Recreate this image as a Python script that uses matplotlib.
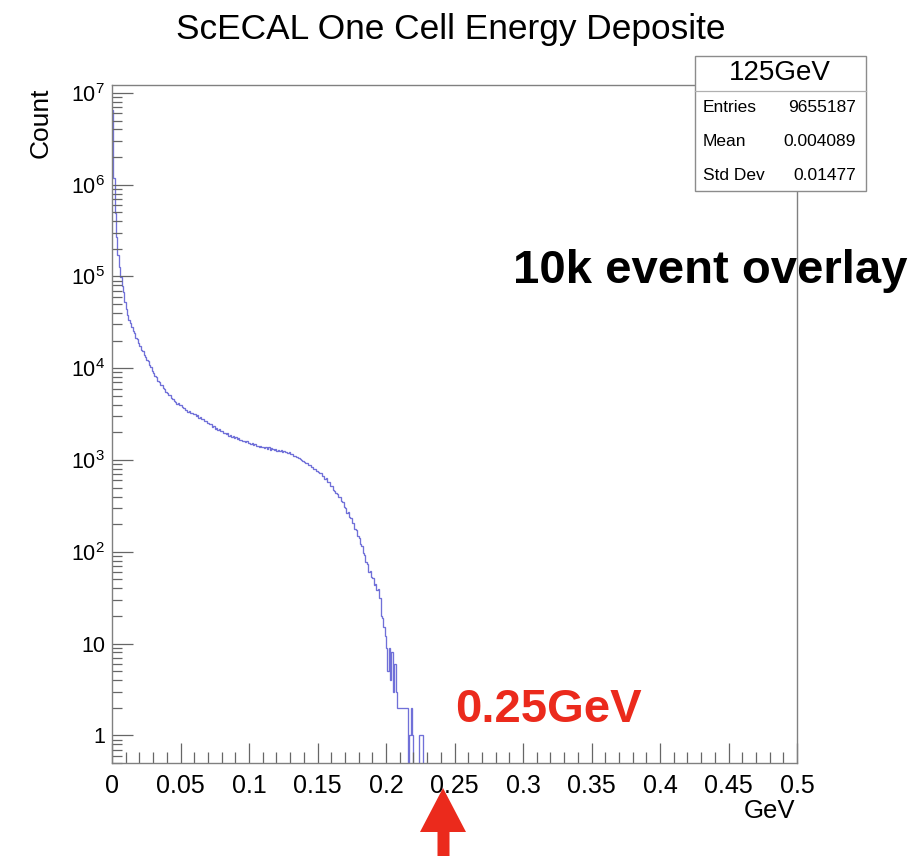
import numpy as np
import matplotlib
matplotlib.use("Agg")
import matplotlib.pyplot as plt
from matplotlib.patches import Rectangle, Polygon
from matplotlib.lines import Line2D
from matplotlib.ticker import FixedLocator, FuncFormatter, MultipleLocator, LogLocator, NullFormatter

plt.rcParams['font.family'] = ['Liberation Sans', 'DejaVu Sans']
plt.rcParams['mathtext.fontset'] = 'custom'
plt.rcParams['mathtext.rm'] = 'Liberation Sans'
plt.rcParams['mathtext.default'] = 'rm'

# one cell energy deposit, 1 MeV bins starting at 0 GeV
bin_width = 0.001
counts_peak = [6450000, 1175000, 490000, 269000, 170000, 126000, 97700,
               79400, 67600, 52500, 44700, 38000, 33900, 30900]
counts_falloff = [28200, 25300, 24300, 21600, 20700, 18800, 17600, 16000, 15300, 13900,
                  13400, 12400, 11900, 10800, 10400, 9400, 8800, 8200, 8050, 7300,
                  7150, 6650, 6550, 6080, 5950, 5540, 5420, 5060, 5080, 4720,
                  4630, 4410, 4330, 4110, 4150, 3930, 3950, 3740, 3680, 3500,
                  3520, 3340, 3430, 3270, 3290, 3200]
counts_plateau = [3210, 3050, 3060, 2900, 2920, 2770, 2790, 2650, 2680, 2530,
                  2560, 2470, 2490, 2310, 2330, 2200, 2230, 2110, 2170, 2060,
                  2080, 1970, 1990, 1920, 1950, 1830, 1890, 1790, 1810, 1750,
                  1770, 1680, 1720, 1640, 1660, 1600, 1630, 1560, 1600, 1530,
                  1540, 1490, 1520, 1450, 1500, 1420, 1440, 1390, 1430, 1370,
                  1400, 1350, 1390, 1330, 1370, 1300, 1340, 1310, 1280, 1320,
                  1270, 1300, 1240, 1280, 1220, 1250, 1210, 1230, 1180, 1210,
                  1160, 1170, 1110, 1120, 1080, 1090, 1040, 1030, 990, 980]
counts_edge = [960, 925, 930, 880, 885, 840, 850, 800, 790, 765,
               750, 715, 720, 670, 675, 620, 630, 575, 570, 525,
               520, 470, 465, 440, 425, 400, 395, 355, 345, 310,
               300, 268, 270, 238, 232, 208, 205, 178, 172, 148,
               142, 122, 116, 96, 92, 77, 74, 61, 62, 53,
               52, 44, 45, 38, 39, 31]
counts_tail = [20, 19, 15, 12, 9, 5, 9, 4, 8, 3, 6, 3, 2, 2, 2, 2, 2, 2, 2, 2,
               0, 1, 2, 1, 0, 0, 0, 0, 1, 1, 1, 0]

counts = np.array(counts_peak + counts_falloff + counts_plateau + counts_edge + counts_tail, dtype=float)
edges = np.arange(len(counts) + 1) * bin_width

x_ticks = [0, 0.05, 0.1, 0.15, 0.2, 0.25, 0.3, 0.35, 0.4, 0.45, 0.5]
y_decades = [1, 10, 1e2, 1e3, 1e4, 1e5, 1e6, 1e7]

stats_title = '125GeV'
stats_rows = [('Entries', '9655187'), ('Mean', '0.004089'), ('Std Dev', '0.01477')]

W, H = 913, 856
fig = plt.figure(figsize=(W / 100, H / 100), dpi=100)

def fx(px):
    return px / W

def fy(py):
    return 1 - py / H

ax = fig.add_axes([fx(112), fy(763), fx(797) - fx(112), fy(85) - fy(763)])
ax.stairs(counts, edges, baseline=None, color='#7070d8', lw=0.95)

ax.set_yscale('log')
ax.set_xlim(0, 0.5)
ax.set_ylim(0.5, 1.22e7)

ax.xaxis.set_major_locator(FixedLocator(x_ticks))
ax.xaxis.set_major_formatter(FuncFormatter(lambda v, p: f'{v:g}'))
ax.xaxis.set_minor_locator(MultipleLocator(0.01))

def ylab(v, p):
    if v < 5:
        return '1'
    if v < 50:
        return '10'
    return r'$10^{%d}$' % round(np.log10(v))

ax.yaxis.set_major_locator(FixedLocator(y_decades))
ax.yaxis.set_major_formatter(FuncFormatter(ylab))
ax.yaxis.set_minor_locator(LogLocator(base=10, subs=np.arange(2, 10)))
ax.yaxis.set_minor_formatter(NullFormatter())

ax.tick_params(which='both', direction='in', color='#666666', width=0.9,
               top=False, right=False)
ax.tick_params(axis='x', which='major', length=14.5, labelsize=18, pad=8)
ax.tick_params(axis='x', which='minor', length=8)
ax.tick_params(axis='y', which='major', length=15, labelsize=15.5, pad=5)
ax.tick_params(axis='y', which='minor', length=7.5)
for s in ax.spines.values():
    s.set_color('#808080')
    s.set_linewidth(1.0)

fig.text(fx(451), fy(29), 'ScECAL One Cell Energy Deposite', ha='center', va='center', fontsize=25.4)
fig.text(fx(41), fy(87), 'Count', rotation=90, ha='center', va='top', fontsize=19)
fig.text(fx(795), fy(811.5), 'GeV', ha='right', va='center', fontsize=18.5)

# statistics box
box_l, box_r, box_t, box_b, box_sep = 695, 866, 56, 191, 91
fig.add_artist(Rectangle((fx(box_l), fy(box_b)), fx(box_r) - fx(box_l), fy(box_t) - fy(box_b),
                         transform=fig.transFigure, facecolor='white', edgecolor='#8c8c8c',
                         lw=1.0, zorder=5))
fig.add_artist(Line2D([fx(box_l), fx(box_r)], [fy(box_sep), fy(box_sep)],
                      transform=fig.transFigure, color='#b0b0b0', lw=0.9, zorder=6))
fig.text(fx(780), fy(73), stats_title, ha='center', va='center', fontsize=20, zorder=7)
for k, (name, val) in enumerate(stats_rows):
    yy = fy(108 + 34 * k)
    fig.text(fx(703), yy, name, ha='left', va='center', fontsize=12.5, zorder=7)
    fig.text(fx(856), yy, val, ha='right', va='center', fontsize=12.5, zorder=7)

fig.text(fx(513), fy(283), '10k event overlay', ha='left', va='baseline',
         fontsize=34, fontweight='bold', color='black', zorder=8)

red = '#eb2a1c'
fig.text(fx(455), fy(721.5), '0.25GeV', ha='left', va='baseline',
         fontsize=34, fontweight='bold', color=red, zorder=8)

arrow_px = [(443, 788), (466, 832), (449.5, 832), (449.5, 870),
            (437.5, 870), (437.5, 832), (420, 832)]
fig.add_artist(Polygon([(fx(a), fy(b)) for a, b in arrow_px], closed=True,
                       transform=fig.transFigure, facecolor=red, edgecolor='none', zorder=8))

fig.savefig('out.png', dpi=100)
